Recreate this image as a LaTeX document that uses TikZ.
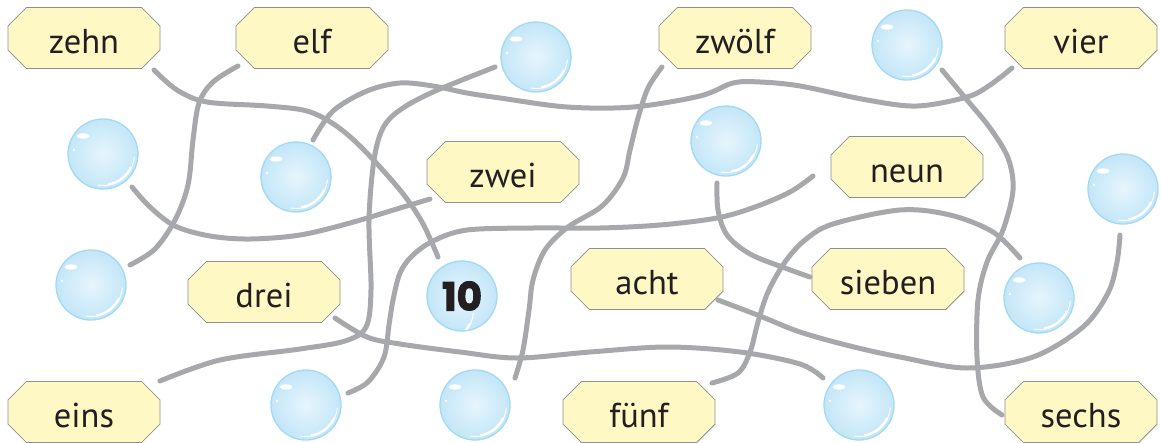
\documentclass[tikz,border=0pt]{standalone}
\usepackage{fontspec}
\setmainfont{PT Sans}
\newfontfamily\numfont{Poppins}[BoldFeatures={FakeBold=2.5}]
\usetikzlibrary{shapes.misc,calc}
\definecolor{boxfill}{HTML}{FEF8C4}
\definecolor{boxline}{HTML}{8E8E8E}
\definecolor{wirecol}{HTML}{A7A8AB}
\definecolor{txt}{HTML}{231F20}
\definecolor{bubedge}{HTML}{A3D9F4}
\definecolor{bubin}{HTML}{E6F5FD}
\definecolor{bubout}{HTML}{C3E6F8}
\tikzset{
  wordbox/.style={chamfered rectangle, chamfered rectangle xsep=15pt,
    draw=boxline, line width=0.8pt, fill=boxfill,
    minimum width=152pt, minimum height=61pt, inner sep=0pt,
    font=\fontsize{34.5}{38}\selectfont, text=txt, text height=31pt, text depth=0pt},
  bubble/.style={circle, minimum size=70pt, inner sep=0pt, draw=bubedge, line width=1.3pt,
    inner color=bubin, outer color=bubout,
    path picture={
      \begin{scope}[shift={(path picture bounding box.center)}, x=1pt, y=1pt]
        \fill[white, rotate around={45:(-20,18)}] (-20,18) ellipse [x radius=6.5, y radius=2.6];
        \fill[white] (-29,4) circle [radius=1.4];
        \draw[white, line width=1pt] (-100:31.5) arc[start angle=-100, end angle=-5, radius=31.5];
        \draw[white, line width=2.4pt] (-80:31) arc[start angle=-80, end angle=-25, radius=31];
      \end{scope}
    }},
  wire/.style={draw=wirecol, line width=5pt, line cap=round}
}
\begin{document}
\begin{tikzpicture}[x=1pt, y=-1pt]
\useasboundingbox (0,0) rectangle (1161,442);
% word boxes
\node[wordbox] (zehn) at (84,38) {zehn};
\node[wordbox] (elf) at (312,38) {elf};
\node[wordbox] (zwoelf) at (735,38) {zwölf};
\node[wordbox] (vier) at (1081,38) {vier};
\node[wordbox] (zwei) at (503,172) {zwei};
\node[wordbox] (neun) at (907,167) {neun};
\node[wordbox] (drei) at (264,292) {drei};
\node[wordbox] (acht) at (647,279) {acht};
\node[wordbox] (sieben) at (888,279) {sieben};
\node[wordbox] (eins) at (84,412) {eins};
\node[wordbox] (fuenf) at (639,412) {fünf};
\node[wordbox] (sechs) at (1081,412) {sechs};
% bubbles
\node[bubble] (b1) at (536,57) {};
\node[bubble] (b2) at (907,45) {};
\node[bubble] (b3) at (103,154) {};
\node[bubble] (b4) at (296,177) {};
\node[bubble] (b5) at (91,285) {};
\node[bubble, font=\numfont\bfseries\fontsize{39}{40}\selectfont, text=txt] (b10) at (462,296) {10};
\node[bubble] (b7) at (726,141) {};
\node[bubble] (b8) at (1123,189) {};
\node[bubble] (b9) at (1039,298) {};
\node[bubble] (bl) at (306,405) {};
\node[bubble] (bm) at (475,405) {};
\node[bubble] (br) at (859,405) {};
% wires
\draw[wire] plot[smooth, tension=0.55] coordinates {($(zehn)+(70,32)$) (177,90) (207,102) (267,106) (307,111) (335,125) (362,148) (400,190) (422,222) ($(b10)+(-24,-39)$)};
\draw[wire] plot[smooth, tension=0.55] coordinates {($(elf)+(-74,28)$) (213,82) (199,103) (193,140) (188,185) (175,220) (155,249) ($(b5)+(39,-20)$)};
\draw[wire] plot[smooth, tension=0.55] coordinates {($(b1)+(-41,10)$) (433,92) (400,110) (383,128) (374,160) (369,220) (371,290) (366,327) (345,341) (300,349) (220,360) ($(eins)+(76,-31)$)};
\draw[wire] plot[smooth, tension=0.55] coordinates {($(b3)+(29,33)$) (150,207) (175,226) (210,236) (250,239) (300,235) (350,223) (400,208) ($(zwei)+(-73,27)$)};
\draw[wire] plot[smooth, tension=0.55] coordinates {($(zwoelf)+(-73,29)$) (648,88) (638,118) (630,150) (623,178) (602,206) (568,227) (545,250) (533,280) (529,310) (523,350) ($(bm)+(40,-27)$)};
\draw[wire] plot[smooth, tension=0.55] coordinates {($(neun)+(-94,9)$) (790,192) (755,207) (717,218) (660,225) (600,228) (533,228) (467,230) (433,241) (412,256) (400,273) (393,300) (389,325) (384,357) (368,382) ($(bl)+(42,-12)$)};
\draw[wire] plot[smooth, tension=0.55] coordinates {($(b7)+(-9,42)$) (718,210) (727,235) (750,254) (785,268) ($(sieben)+(-78,-2)$)};
\draw[wire] plot[smooth, tension=0.55] coordinates {($(b2)+(35,25)$) (967,100) (990,128) (1008,158) (1013,190) (1003,230) (987,262) (978,300) (977,357) (983,397) ($(sechs)+(-79,3)$)};
\draw[wire] plot[smooth, tension=0.55] coordinates {($(vier)+(-69,30)$) (990,85) (967,97) (917,106) (867,100) (800,86) (760,82) (733,83) (700,96) (633,107) (567,107) (500,98) (467,93) (433,86) (400,83) (367,91) (333,111) ($(b4)+(17,-37)$)};
\draw[wire] plot[smooth, tension=0.55] coordinates {($(fuenf)+(73,-29)$) (738,373) (750,352) (758,322) (768,292) (785,262) (805,240) (833,224) (900,210) (950,215) (993,232) ($(b9)+(-19,-40)$)};
\draw[wire] plot[smooth, tension=0.55] coordinates {($(acht)+(71,21)$) (760,316) (800,332) (850,346) (900,357) (967,368) (1033,357) (1083,327) (1108,293) (1117,262) ($(b8)+(-3,46)$)};
\draw[wire] plot[smooth, tension=0.55] coordinates {($(drei)+(71,26)$) (367,337) (400,344) (460,352) (517,358) (590,352) (667,347) (740,352) (800,364) ($(br)+(-36,-27)$)};
\end{tikzpicture}
\end{document}
